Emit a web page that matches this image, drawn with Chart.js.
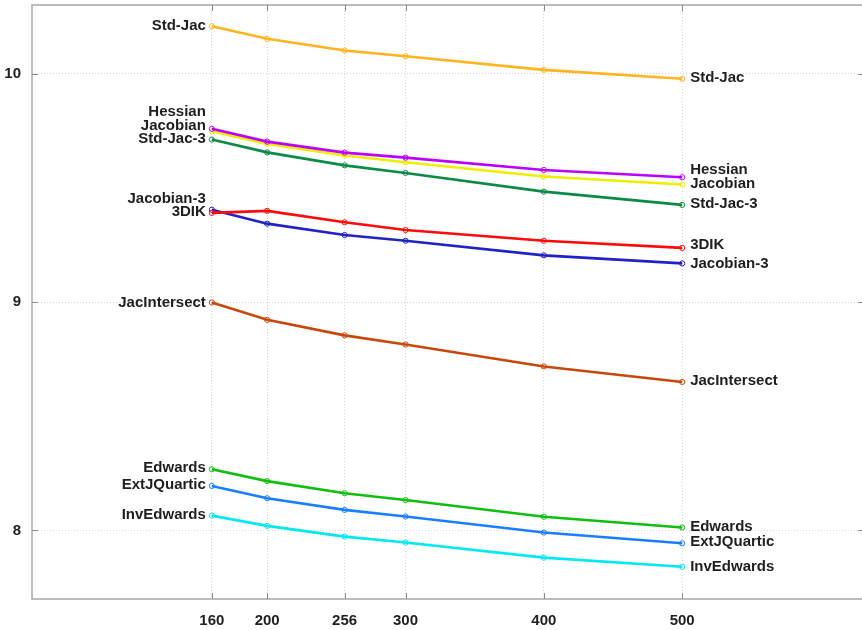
<!DOCTYPE html>
<html>
<head>
<meta charset="utf-8">
<script src="https://cdn.jsdelivr.net/npm/chart.js@4.4.1/dist/chart.umd.min.js"></script>
<style>
  html, body { margin: 0; padding: 0; background: #fff; }
  #wrap { width: 862px; height: 630px; }
</style>
</head>
<body>
<div id="wrap"><canvas id="c" width="862" height="630"></canvas></div>
<script>
// Field sizes (bits) on the x axis
const sizes = [160, 200, 256, 300, 400, 500];
const xTicks = [160, 200, 256, 300, 400, 500];
const yTicks = [8, 9, 10];

// One series per formula
const stdJac      = [10.207, 10.152, 10.101, 10.076, 10.016, 9.977];
const hessian     = [9.758, 9.702, 9.654, 9.632, 9.578, 9.546];
const jacobian    = [9.747, 9.692, 9.641, 9.612, 9.549, 9.514];
const stdJac3     = [9.711, 9.655, 9.598, 9.565, 9.483, 9.425];
const dik3        = [9.390, 9.399, 9.349, 9.315, 9.268, 9.237];
const jacobian3   = [9.404, 9.343, 9.293, 9.268, 9.204, 9.169];
const jacIntersect= [8.998, 8.922, 8.854, 8.814, 8.718, 8.650];
const edwards     = [8.268, 8.216, 8.163, 8.133, 8.060, 8.013];
const extJQuartic = [8.195, 8.141, 8.090, 8.061, 7.991, 7.944];
const invEdwards  = [8.065, 8.020, 7.973, 7.947, 7.881, 7.841];

const seriesNames = ['Std-Jac', 'Hessian', 'Jacobian', 'Std-Jac-3', '3DIK', 'Jacobian-3',
                     'JacIntersect', 'Edwards', 'ExtJQuartic', 'InvEdwards'];
const seriesValues = [stdJac, hessian, jacobian, stdJac3, dik3, jacobian3,
                      jacIntersect, edwards, extJQuartic, invEdwards];
const seriesColors = ['#ffb31f', '#bb00ff', '#eeee00', '#0b8a48', '#ff0a0a', '#2222c4',
                      '#c8470a', '#0fbf0f', '#1a7fff', '#00e8f0'];

// Vertical nudges (px) for the end labels so that neighbours don't collide
const leftNudge  = { 'Std-Jac': 0, 'Hessian': -17, 'Jacobian': -5, 'Std-Jac-3': -1,
                     'Jacobian-3': -11, '3DIK': -1, 'JacIntersect': 0,
                     'Edwards': -1, 'ExtJQuartic': -1, 'InvEdwards': -1 };
const rightNudge = { 'Std-Jac': -1, 'Hessian': -7, 'Jacobian': -1, 'Std-Jac-3': -1,
                     '3DIK': -3, 'Jacobian-3': 0, 'JacIntersect': -1,
                     'Edwards': -1, 'ExtJQuartic': -1, 'InvEdwards': 0 };

const FAMILY = '"Liberation Sans", Arial, sans-serif';
const FONT = 'bold 15px ' + FAMILY;

const datasets = seriesNames.map((name, i) => ({
  label: name,
  data: sizes.map((x, j) => ({ x: x, y: seriesValues[i][j] })),
  borderColor: seriesColors[i],
  backgroundColor: 'rgba(255,255,255,0)',
  borderWidth: 2.6,
  pointRadius: 2.6,
  pointBorderWidth: 1,
  pointBackgroundColor: 'rgba(255,255,255,0)',
  pointBorderColor: seriesColors[i],
  tension: 0
}));

// Frame (left, top, bottom), inward tick marks and the series labels at both ends
const framePlugin = {
  id: 'frame',
  afterDatasetsDraw(chart) {
    const { ctx, chartArea: a, scales } = chart;
    const xs = scales.x, ys = scales.y;
    ctx.save();
    ctx.strokeStyle = '#a8a8a8';
    ctx.lineWidth = 1.5;
    ctx.beginPath();
    ctx.moveTo(a.right + 2, a.top);
    ctx.lineTo(a.left, a.top);
    ctx.lineTo(a.left, a.bottom);
    ctx.lineTo(a.right + 2, a.bottom);
    ctx.stroke();
    ctx.strokeStyle = '#8a8a8a';
    ctx.lineWidth = 1;
    const L = 6;
    xTicks.forEach(v => {
      const px = Math.round(xs.getPixelForValue(v)) + 0.5;
      ctx.beginPath();
      ctx.moveTo(px, a.bottom); ctx.lineTo(px, a.bottom - L);
      ctx.moveTo(px, a.top); ctx.lineTo(px, a.top + L);
      ctx.stroke();
    });
    yTicks.forEach(v => {
      const py = Math.round(ys.getPixelForValue(v)) + 0.5;
      ctx.beginPath();
      ctx.moveTo(a.left, py); ctx.lineTo(a.left + L, py);
      ctx.moveTo(a.right + 2, py); ctx.lineTo(a.right - L + 2, py);
      ctx.stroke();
    });

    ctx.font = FONT;
    ctx.fillStyle = '#1e1e1e';
    ctx.textBaseline = 'middle';
    const x0 = xs.getPixelForValue(sizes[0]);
    const x1 = xs.getPixelForValue(sizes[sizes.length - 1]);
    seriesNames.forEach((name, i) => {
      const vals = seriesValues[i];
      ctx.textAlign = 'right';
      ctx.fillText(name, x0 - 6, ys.getPixelForValue(vals[0]) + leftNudge[name]);
      ctx.textAlign = 'left';
      ctx.fillText(name, x1 + 8, ys.getPixelForValue(vals[vals.length - 1]) + rightNudge[name]);
    });
    ctx.restore();
  }
};

function noEdgePadding(scale) {
  scale.paddingTop = 0; scale.paddingBottom = 0;
  scale.paddingLeft = 0; scale.paddingRight = 0;
}

new Chart(document.getElementById('c'), {
  type: 'line',
  data: { datasets },
  options: {
    responsive: false,
    animation: false,
    layout: { autoPadding: false, padding: { top: 5, right: 0, left: 0, bottom: 0 } },
    plugins: { legend: { display: false }, tooltip: { enabled: false } },
    scales: {
      x: {
        type: 'linear',
        min: 30, max: 630,
        afterBuildTicks(scale) { scale.ticks = xTicks.map(v => ({ value: v })); },
        afterFit(scale) { scale.height = 31; noEdgePadding(scale); },
        ticks: {
          padding: 13,
          color: '#1e1e1e',
          font: { family: FAMILY, size: 15, weight: 'bold' },
          maxRotation: 0,
          autoSkip: false
        },
        grid: { color: '#d6d6d6', lineWidth: 1, drawTicks: false },
        border: { display: false, dash: [1, 2] }
      },
      y: {
        type: 'linear',
        min: 7.7, max: 10.3,
        afterBuildTicks(scale) { scale.ticks = yTicks.map(v => ({ value: v })); },
        afterFit(scale) { scale.width = 32; noEdgePadding(scale); },
        ticks: {
          padding: 11,
          color: '#1e1e1e',
          font: { family: FAMILY, size: 15, weight: 'bold' },
          callback: v => String(v)
        },
        grid: { color: '#d6d6d6', lineWidth: 1, drawTicks: false },
        border: { display: false, dash: [1, 2] }
      }
    }
  },
  plugins: [framePlugin]
});
</script>
</body>
</html>
